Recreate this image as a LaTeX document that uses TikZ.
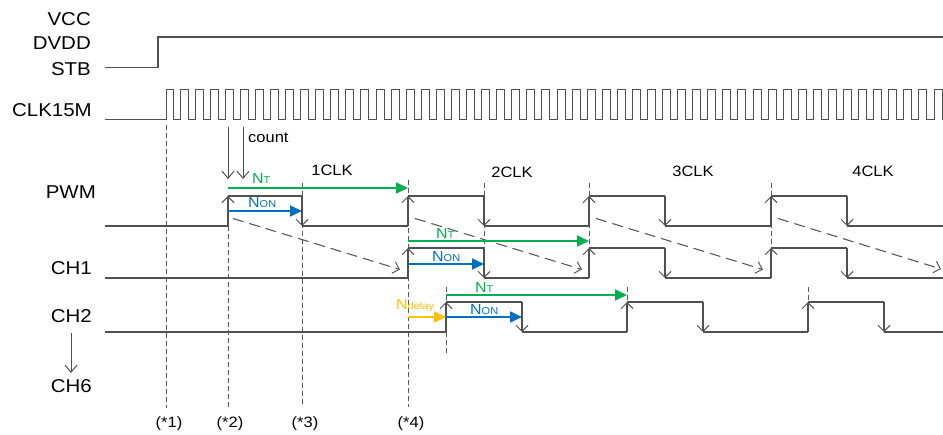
\documentclass[tikz,border=0pt]{standalone}
\usepackage{fontspec}
\setmainfont{Liberation Sans}[FakeStretch=1.1]
\usetikzlibrary{arrows.meta}
\definecolor{wavegray}{HTML}{505050}
\definecolor{guidegray}{HTML}{5A5A5A}
\definecolor{ngreen}{HTML}{00B050}
\definecolor{nblue}{HTML}{0070C0}
\definecolor{nyellow}{HTML}{FFC000}
\newcommand\Nlab[1]{{\fontsize{14.5}{15}\selectfont N}{\fontsize{10}{11}\selectfont #1}}
\tikzset{
  wave/.style={draw=wavegray, line width=1.3pt},
  clkwave/.style={draw=wavegray, line width=1pt},
  edgearr/.style={wave, -{Straight Barb[length=6pt,width=12pt,line width=1pt]}},
  thinarr/.style={draw=wavegray, line width=1pt, -{Straight Barb[length=7pt,width=12pt,line width=1pt]}},
  guide/.style={draw=guidegray, line width=0.9pt, dash pattern=on 5pt off 3pt},
  diag/.style={draw=guidegray, line width=1.1pt, dash pattern=on 11pt off 6pt, -{Straight Barb[length=6pt,width=12pt,line width=1pt]}},
  meas/.style={line width=1.7pt, -{Triangle[length=12pt,width=11pt]}},
  siglabel/.style={anchor=base east, inner sep=0pt, font=\fontsize{18.6}{20}\selectfont},
  smalllabel/.style={inner sep=0pt, font=\fontsize{15}{16}\selectfont},
  nlabel/.style={anchor=base west, inner sep=0pt}
}
\begin{document}
\begin{tikzpicture}[x=1pt,y=-1pt]
\useasboundingbox (0,0) rectangle (943,435);
% signal names
\node[siglabel] (vcc) at (91,25.5) {VCC};
\node[siglabel] (dvdd) at (91,49.5) {DVDD};
\node[siglabel] (stb) at (91,76) {STB};
\node[siglabel] (clk) at (92,117) {CLK15M};
\node[siglabel] (pwm) at (96,199) {PWM};
\node[siglabel] (ch1) at (92,275) {CH1};
\node[siglabel] (ch2) at (92,323) {CH2};
\node[siglabel] (ch6) at (92,393) {CH6};
\coordinate (c2a) at (71,333);
\coordinate (c6a) at (71,373);
\draw[thinarr] (c2a) -- (c6a);
% guide lines
\draw[guide] (166,125) -- (166,408);
\draw[guide] (228,226) -- (228,407);
\draw[guide] (302,183) -- (302,407);
\draw[guide] (408,180) -- (408,407);
\foreach \x in {484,589,771} \draw[guide] (\x,183) -- (\x,248);
\draw[guide] (446,287) -- (446,302) (446,332) -- (446,355);
\foreach \x in {627,808} \draw[guide] (\x,287) -- (\x,302);
% STB
\draw[wave] (105,67.5) -- (158,67.5) -- (158,37) -- (943,37);
% clock
\draw[clkwave] (105,119.5) -- (166.7,119.5) -- (166.7,89.3) -- (173.3,89.3) -- (173.3,119.5)
  \foreach \k in {0,...,50}{ -- ({180+15.08*\k},119.5) -- ++(0,-30.2) -- ++(8,0) -- ++(0,30.2)} -- (943,119.5);
% PWM
\draw[wave] (105,226) -- (228,226) (228,196) -- (302,196) (302,226) -- (408,226)
  (408,196) -- (484,196) (484,226) -- (589,226) (589,196) -- (665,196) (665,226) -- (771,226)
  (771,196) -- (847,196) (847,226) -- (943,226);
\foreach \x in {228,408,589,771} \draw[edgearr] (\x,226) -- (\x,196);
\foreach \x in {302,484,665,847} \draw[edgearr] (\x,196) -- (\x,226);
% CH1
\draw[wave] (105,278) -- (408,278) (408,248) -- (484,248) (484,278) -- (589,278)
  (589,248) -- (665,248) (665,278) -- (771,278) (771,248) -- (847,248) (847,278) -- (943,278);
\foreach \x in {408,589,771} \draw[edgearr] (\x,278) -- (\x,248);
\foreach \x in {484,665,847} \draw[edgearr] (\x,248) -- (\x,278);
% CH2
\draw[wave] (105,332) -- (446,332) (446,302) -- (522,302) (522,332) -- (627,332)
  (627,302) -- (703,302) (703,332) -- (808,332) (808,302) -- (884,302) (884,332) -- (943,332);
\foreach \x in {446,627,808} \draw[edgearr] (\x,332) -- (\x,302);
\foreach \x in {522,703,884} \draw[edgearr] (\x,302) -- (\x,332);
% diagonal dashed
\draw[diag] (233,218.5) -- (400,269.5);
\draw[diag] (415,218.5) -- (582,269.5);
\draw[diag] (596,218.5) -- (763,269.5);
\draw[diag] (778,218.5) -- (941,269);
% count arrows
\draw[thinarr] (228,127) -- (228,179);
\draw[thinarr] (243,127) -- (243,179);
\node[smalllabel, anchor=base west] (count) at (248,143) {count};
% CLK labels
\node[smalllabel] (clk1) at (332,170.5) {1CLK};
\node[smalllabel] (clk2) at (512,172) {2CLK};
\node[smalllabel] (clk3) at (693,171) {3CLK};
\node[smalllabel] (clk4) at (873,171) {4CLK};
% measurements
\draw[meas, ngreen] (228,188) -- (408,188);
\draw[meas, nblue] (228,211) -- (302,211);
\draw[meas, ngreen] (408,241) -- (589,241);
\draw[meas, nblue] (408,264) -- (484,264);
\draw[meas, ngreen] (446,295) -- (627,295);
\draw[meas, nblue] (446,317) -- (522,317);
\draw[meas, nyellow] (408,317) -- (446,317);
\node[nlabel, text=ngreen] (nt1) at (252,183.5) {\Nlab{T}};
\node[nlabel, text=nblue] (non1) at (248,207.5) {\Nlab{ON}};
\node[nlabel, text=ngreen] (nt2) at (436,239) {\Nlab{T}};
\node[nlabel, text=nblue] (non2) at (432,261.5) {\Nlab{ON}};
\node[nlabel, text=ngreen] (nt3) at (475,293) {\Nlab{T}};
\node[nlabel, text=nblue] (non3) at (470,315) {\Nlab{ON}};
\node[nlabel, text=nyellow] (ndl) at (396,310) {\Nlab{delay}};
% bottom markers
\node[smalllabel] (m1) at (169,424) {(*1)};
\node[smalllabel] (m2) at (230,424) {(*2)};
\node[smalllabel] (m3) at (305,424) {(*3)};
\node[smalllabel] (m4) at (411,424) {(*4)};
\end{tikzpicture}
\end{document}
